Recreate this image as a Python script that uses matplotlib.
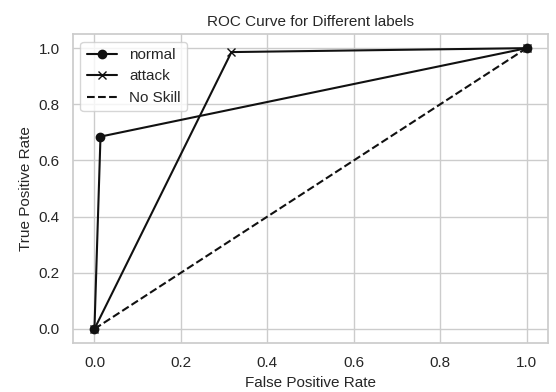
import numpy as np
import matplotlib
matplotlib.use('Agg')
import matplotlib.pyplot as plt
import seaborn as sns

sns.set_theme(style='whitegrid')
plt.rcParams['font.family'] = ['Liberation Sans', 'DejaVu Sans']

# roc points
normal_fpr = [0.0, 0.014, 1.0]
normal_tpr = [0.0, 0.685, 1.0]
attack_fpr = [0.0, 0.317, 1.0]
attack_tpr = [0.0, 0.986, 1.0]
ns_fpr = [0.0, 1.0]
ns_tpr = [0.0, 1.0]

fig = plt.figure(figsize=(5.56, 3.92), dpi=100)
ax = fig.add_axes([0.131, 0.125, 0.855, 0.788])

ax.plot(normal_fpr, normal_tpr, color='#111111', marker='o', ms=6, lw=1.5, label='normal')
ax.plot(attack_fpr, attack_tpr, color='#111111', marker='x', ms=6, lw=1.5, label='attack')
ax.plot(ns_fpr, ns_tpr, color='#111111', ls='--', lw=1.5, label='No Skill')

ax.set_xlabel('False Positive Rate', fontsize=11)
ax.set_ylabel('True Positive Rate', fontsize=11)
ax.set_title('ROC Curve for Different labels', fontsize=11)
ax.tick_params(labelsize=11)
ax.legend(loc='upper left', fontsize=11)

fig.savefig('out.png', dpi=100)
